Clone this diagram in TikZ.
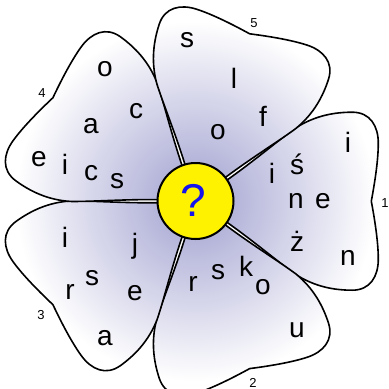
\documentclass[tikz,border=0pt]{standalone}
\usepackage{fontspec}
\setmainfont{Liberation Sans}
\definecolor{lav}{RGB}{160,160,208}
\definecolor{qblue}{RGB}{20,20,235}
\tikzset{
  petaloutline/.style={draw=black, line width=1.6pt, line join=round},
  letter/.style={font=\fontsize{28}{28}\selectfont, inner sep=0pt, text=black},
  num/.style={font=\fontsize{13}{13}\selectfont, inner sep=0pt, text=black},
  hub/.style={circle, fill=yellow, draw=black, line width=2pt, minimum size=76pt, inner sep=0pt},
  qmark/.style={font=\fontsize{46}{46}\selectfont, inner sep=0pt, text=qblue}
}
\newcommand{\flowerpetal}[1]{%
  \begin{scope}
    \clip[shift={(195.3,-201.2)}, rotate=#1]
      (0,0) .. controls (45,28) and (75,55) .. (100,73)
      .. controls (120,86) and (140,89) .. (157,89)
      .. controls (175,89) and (183,75) .. (183,58)
      .. controls (183,40) and (179,16) .. (176,0)
      .. controls (179,-16) and (183,-40) .. (183,-58)
      .. controls (183,-75) and (175,-89) .. (157,-89)
      .. controls (140,-89) and (120,-86) .. (100,-73)
      .. controls (75,-55) and (45,-28) .. (0,0) -- cycle;
    \shade[inner color=lav, outer color=white] (195.3,-201.2) circle (180pt);
  \end{scope}
  \draw[petaloutline, shift={(195.3,-201.2)}, rotate=#1]
      (0,0) .. controls (45,28) and (75,55) .. (100,73)
      .. controls (120,86) and (140,89) .. (157,89)
      .. controls (175,89) and (183,75) .. (183,58)
      .. controls (183,40) and (179,16) .. (176,0)
      .. controls (179,-16) and (183,-40) .. (183,-58)
      .. controls (183,-75) and (175,-89) .. (157,-89)
      .. controls (140,-89) and (120,-86) .. (100,-73)
      .. controls (75,-55) and (45,-28) .. (0,0) -- cycle;
}
\begin{document}
\begin{tikzpicture}[x=1pt,y=1pt]
\useasboundingbox (0,0) rectangle (389,-389);
\flowerpetal{0}
\flowerpetal{-72}
\flowerpetal{-144}
\flowerpetal{144}
\flowerpetal{72}
\node[hub] (ctr) at (195.5,-201) {};
\node[qmark] (q) at (193,-200) {?};
% petal 5 (top)
\node[letter] (t1) at (187,-40) {s};
\node[letter] (t2) at (234,-78) {l};
\node[letter] (t3) at (218,-132) {o};
\node[letter] (t4) at (263,-116) {f};
% petal 1 (right)
\node[letter] (r1) at (348,-142) {i};
\node[letter] (r2) at (297,-164) {ś};
\node[letter] (r3) at (272,-173) {i};
\node[letter] (r4) at (296,-201) {n};
\node[letter] (r5) at (323,-201) {e};
\node[letter] (r6) at (297,-241) {ż};
\node[letter] (r7) at (348,-258) {n};
% petal 2 (bottom)
\node[letter] (b1) at (193,-284) {r};
\node[letter] (b2) at (218,-272) {s};
\node[letter] (b3) at (246,-266) {k};
\node[letter] (b4) at (263,-287) {o};
\node[letter] (b5) at (297,-330) {u};
% petal 3 (lower left)
\node[letter] (l1) at (65,-237) {i};
\node[letter] (l2) at (135,-246) {j};
\node[letter] (l3) at (92,-278) {s};
\node[letter] (l4) at (70,-292) {r};
\node[letter] (l5) at (135,-293) {e};
\node[letter] (l6) at (105,-338) {a};
% petal 4 (upper left)
\node[letter] (u1) at (105,-69) {o};
\node[letter] (u2) at (136,-111) {c};
\node[letter] (u3) at (91,-126) {a};
\node[letter] (u4) at (39,-159) {e};
\node[letter] (u5) at (65,-164) {i};
\node[letter] (u6) at (91,-173) {c};
\node[letter] (u7) at (117,-181) {s};
% petal numbers
\node[num] (n1) at (385,-203) {1};
\node[num] (n2) at (253,-383) {2};
\node[num] (n3) at (41,-315) {3};
\node[num] (n4) at (42,-93) {4};
\node[num] (n5) at (254,-23) {5};
\end{tikzpicture}
\end{document}
